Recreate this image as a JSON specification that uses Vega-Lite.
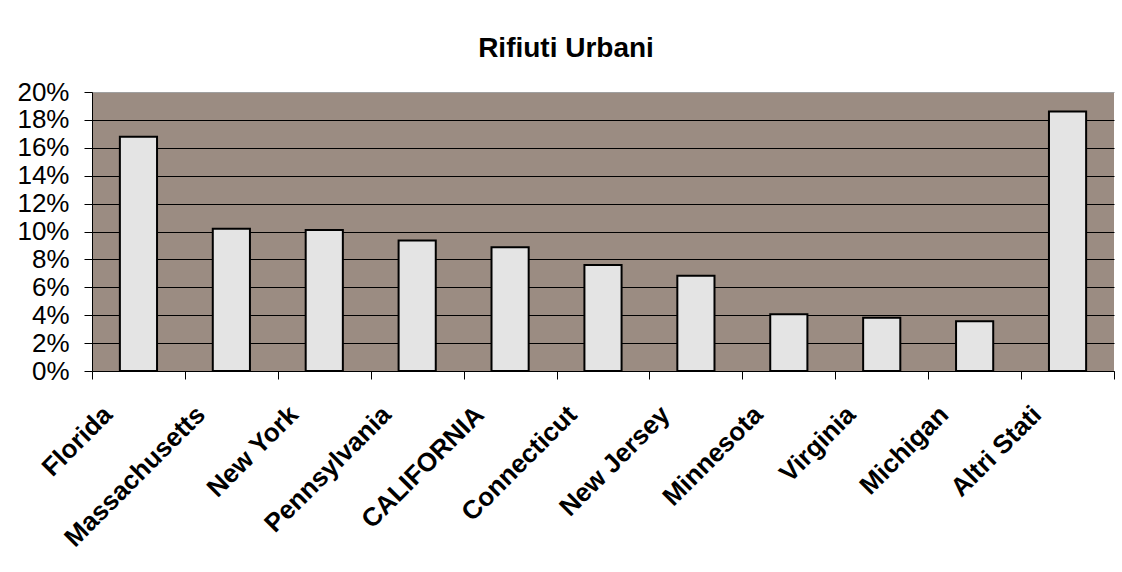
{
  "$schema": "https://vega.github.io/schema/vega-lite/v6.json",
  "autosize": "none",
  "width": 1022,
  "height": 279,
  "padding": {"left": 92, "top": 92, "right": 8, "bottom": 201},
  "background": "white",
  "title": {
    "text": "Rifiuti Urbani",
    "font": "Liberation Sans",
    "fontSize": 28,
    "fontWeight": "bold",
    "color": "black",
    "anchor": "middle",
    "baseline": "alphabetic",
    "offset": 33,
    "dx": -37,
    "dy": 39
  },
  "config": {
    "font": "Liberation Sans",
    "view": {"fill": "#9b8c82", "stroke": null}
  },
  "data": {
    "values": [
      {"stato": "Florida", "quota": 0.168},
      {"stato": "Massachusetts", "quota": 0.102},
      {"stato": "New York", "quota": 0.101},
      {"stato": "Pennsylvania", "quota": 0.0935},
      {"stato": "CALIFORNIA", "quota": 0.0887},
      {"stato": "Connecticut", "quota": 0.076},
      {"stato": "New Jersey", "quota": 0.0683},
      {"stato": "Minnesota", "quota": 0.0406},
      {"stato": "Virginia", "quota": 0.0382},
      {"stato": "Michigan", "quota": 0.0356},
      {"stato": "Altri Stati", "quota": 0.186}
    ]
  },
  "mark": {
    "type": "bar",
    "width": {"band": 0.4},
    "fill": "#e4e4e4",
    "stroke": "black",
    "strokeWidth": 2
  },
  "encoding": {
    "x": {
      "field": "stato",
      "type": "nominal",
      "sort": null,
      "scale": {"paddingInner": 0, "paddingOuter": 0},
      "axis": {
        "title": null,
        "tickBand": "extent",
        "tickSize": 8,
        "tickColor": "black",
        "domainColor": "black",
        "domainWidth": 1,
        "labelAngle": -45,
        "labelAlign": "right",
        "labelBaseline": "top",
        "labelFontSize": 26,
        "labelFontWeight": "bold",
        "labelColor": "black",
        "labelPadding": 22,
        "labelOffset": -40,
        "labelLimit": 400
      }
    },
    "y": {
      "field": "quota",
      "type": "quantitative",
      "scale": {"domain": [0, 0.2], "nice": false},
      "axis": {
        "title": null,
        "values": [0, 0.02, 0.04, 0.06, 0.08, 0.1, 0.12, 0.14, 0.16, 0.18, 0.2],
        "format": ".0%",
        "grid": true,
        "gridColor": {"condition": {"test": "datum.value >= 0.199", "value": "#a0a0a0"}, "value": "black"},
        "gridOpacity": 1,
        "gridWidth": 1,
        "tickSize": 8,
        "tickColor": "black",
        "domainColor": "black",
        "labelFontSize": 26,
        "labelColor": "black",
        "labelPadding": 15,
        "labelBaseline": "middle"
      }
    }
  }
}
